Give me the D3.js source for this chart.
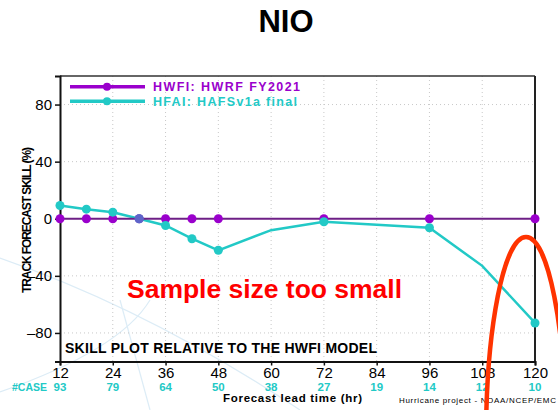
<!DOCTYPE html>
<html>
<script src='https://d3js.org/d3.v7.min.js'></script>
<style>
 body {margin:0; background:#fff;}
 text {font-family: 'Liberation Sans', Arial, sans-serif;}
</style>
<body onload='init()'>
<svg width=558 height=410>
</svg>
<script>

// data
const hwfiHours = [12, 18, 24, 30, 36, 42, 48, 72, 96, 120];
const hwfiSkill = [0, 0, 0, 0, 0, 0, 0, 0, 0, 0];
const hfaiHours = [12, 18, 24, 30, 36, 42, 48, 60, 72, 96, 108, 120];
const hfaiSkill = [9.3, 6.7, 4.6, 0, -4.7, -14, -22.1, -8, -2.1, -6.3, -33, -73];
const hfaiMarked = [1, 1, 1, 1, 1, 1, 1, 0, 1, 1, 0, 1];
const xTicks = [12, 24, 36, 48, 60, 72, 84, 96, 108, 120];
const caseCounts = [93, 79, 64, 50, 38, 27, 19, 14, 12, 10];
const yTicks = [80, 40, 0, -40, -80];

function init() {

 var svg = d3.select('svg');
 var purple = '#9a00cc', purpleLine = '#6e1f86', cyan = '#22c9c6';

 var x = d3.scaleLinear().domain([12,120]).range([60,535]);
 var y = d3.scaleLinear().domain([-100,100]).range([361.5,76]);

 // faint slide background swooshes
 var bg = svg.append('g').attr('fill','none').attr('stroke','#dcecf6').attr('stroke-width',1.2);
 bg.append('path').attr('d','M0,258 Q150,310 300,410');
 bg.append('path').attr('d','M0,392 Q120,350 150,300');
 bg.append('path').attr('d','M120,300 L150,410');

 svg.append('text').attr('x',286).attr('y',32).attr('text-anchor','middle')
  .style('font-size','31px').style('font-weight','bold').text('NIO');

 // grid
 var grid = svg.append('g').attr('stroke','#c8c8c8').attr('stroke-width',1).attr('stroke-dasharray','1,3');
 grid.selectAll('line.v').data(xTicks.slice(1,-1)).enter().append('line')
  .attr('x1',d=>x(d)).attr('x2',d=>x(d)).attr('y1',76).attr('y2',361.5);
 grid.selectAll('line.h').data(yTicks.filter(d=>d!=0)).enter().append('line')
  .attr('y1',d=>y(d)).attr('y2',d=>y(d)).attr('x1',60).attr('x2',535);

 // frame
 svg.append('line').attr('x1',60).attr('x2',535).attr('y1',76).attr('y2',76)
  .attr('stroke','#333').attr('stroke-width',1.5);
 svg.append('line').attr('x1',535).attr('x2',535).attr('y1',76).attr('y2',361.5)
  .attr('stroke','#222').attr('stroke-width',2);

 // axes
 var yAxis = svg.append('g').attr('transform','translate(60,0)')
  .call(d3.axisLeft(y).tickValues(yTicks).tickSize(5).tickPadding(3).tickFormat(d=>d<0?'\u2013'+(-d):d));
 var xAxis = svg.append('g').attr('transform','translate(0,361.5)')
  .call(d3.axisBottom(x).tickValues(xTicks).tickSize(4).tickPadding(3));
 [yAxis, xAxis].forEach(function(a) {
  a.select('.domain').attr('stroke','#111').attr('stroke-width',2);
  a.selectAll('.tick line').attr('stroke','#111').attr('stroke-width',1.5);
  a.selectAll('text').attr('fill','#000').style('font-size','15px')
   .style('font-family',"'Liberation Sans', Arial, sans-serif");
 });
 xAxis.selectAll('text').attr('dy',9);

 // case counts
 svg.append('g').selectAll('text').data(caseCounts).enter().append('text')
  .attr('x',(d,i)=>x(xTicks[i])).attr('y',391).attr('text-anchor','middle')
  .attr('fill',cyan).style('font-size','11.5px').style('font-weight','bold').text(d=>d);
 svg.append('text').attr('x',12).attr('y',391).attr('textLength',35).attr('lengthAdjust','spacingAndGlyphs')
  .attr('fill',cyan).style('font-size','11.5px').style('font-weight','bold').text('#CASE');

 svg.append('text').attr('x',223).attr('y',402).attr('textLength',139)
  .style('font-size','11.5px').style('font-weight','bold').text('Forecast lead time (hr)');
 svg.append('text').attr('x',399).attr('y',403).attr('textLength',157)
  .style('font-size','8px').text('Hurricane project - NOAA/NCEP/EMC');

 svg.append('text').attr('transform','translate(31,220) rotate(-90)').attr('text-anchor','middle')
  .attr('textLength',146).style('font-size','12px').style('font-weight','bold')
  .text('TRACK FORECAST SKILL (%)');

 svg.append('text').attr('x',65).attr('y',353).attr('textLength',312)
  .style('font-size','14px').style('font-weight','bold').text('SKILL PLOT RELATIVE TO THE HWFI MODEL');

 // series
 var line = d3.line().x(d=>x(d[0])).y(d=>y(d[1]));
 var hwfi = hwfiHours.map((h,i)=>[h,hwfiSkill[i]]);
 var hfai = hfaiHours.map((h,i)=>[h,hfaiSkill[i],hfaiMarked[i]]);

 svg.append('path').datum(hfai).attr('d',line).attr('fill','none')
  .attr('stroke',cyan).attr('stroke-width',2.5);
 svg.append('path').datum(hwfi).attr('d',line).attr('fill','none')
  .attr('stroke',purpleLine).attr('stroke-width',2);
 svg.append('g').selectAll('circle').data(hwfi).enter().append('circle')
  .attr('cx',d=>x(d[0])).attr('cy',d=>y(d[1])).attr('r',4.5).attr('fill',purple);
 svg.append('g').selectAll('circle').data(hfai.filter(d=>d[2])).enter().append('circle')
  .attr('cx',d=>x(d[0])).attr('cy',d=>y(d[1])).attr('r',4.5).attr('fill',cyan);
 // purple marker shows through where they overlap at 30h
 svg.append('circle').attr('cx',x(30)).attr('cy',y(0)).attr('r',4.5).attr('fill',purple).attr('opacity',0.5);

 // legend
 var leg = [[purple,'HWFI: HWRF FY2021',86.7,147],[cyan,'HFAI: HAFSv1a final',101.3,144]];
 leg.forEach(function(l) {
  svg.append('line').attr('x1',70).attr('x2',145).attr('y1',l[2]).attr('y2',l[2])
   .attr('stroke',l[0]).attr('stroke-width',3.5);
  svg.append('circle').attr('cx',107).attr('cy',l[2]).attr('r',4).attr('fill',l[0]);
  svg.append('text').attr('x',153).attr('y',l[2]+4.3).attr('fill',l[0])
   .attr('textLength',l[3])
   .style('font-size','12.5px').style('font-weight','bold').text(l[1]);
 });

 // annotation
 svg.append('text').attr('x',127).attr('y',297.5).attr('textLength',275).attr('fill','#ff0000')
  .style('font-size','26.5px').style('font-weight','bold').text('Sample size too small');
 svg.append('ellipse').attr('cx',526).attr('cy',440).attr('rx',40).attr('ry',203)
  .attr('fill','none').attr('stroke','#ff3300').attr('stroke-width',4.5);
}

</script>
</body>
</html>
